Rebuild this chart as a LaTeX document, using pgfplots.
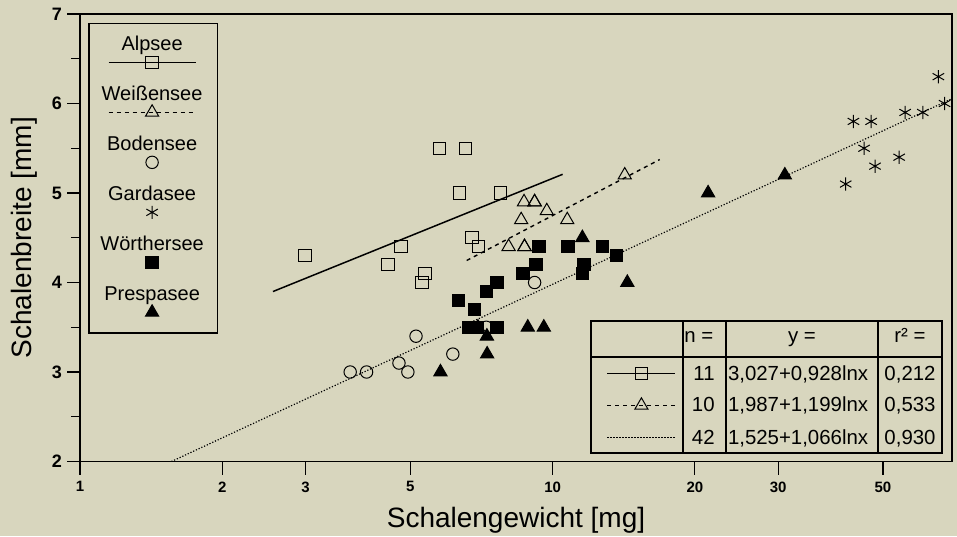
\documentclass[border=0pt]{standalone}
\usepackage{pgfplots}
\pgfplotsset{compat=1.18}
\usepackage{fontspec}
\setmainfont{Liberation Sans}
\definecolor{bgc}{RGB}{216,214,190}
\newcommand{\legfont}{\fontsize{10}{12}\selectfont}
\newcommand{\tabfont}{\fontsize{10.2}{12}\selectfont}
\begin{document}
\begin{tikzpicture}
\fill[bgc] (-40pt,-37.25pt) rectangle (438.5pt,230.75pt);
\begin{axis}[
  at={(0pt,0pt)}, anchor=south west, scale only axis,
  width=436pt, height=223.75pt,
  xmode=log, xmin=1, xmax=70, ymin=2, ymax=7,
  axis line style={line width=0.65pt},
  xtick={1,2,3,5,10,20,30,50},
  xticklabels={1,2,3,5,10,20,30,50},
  ytick={2,3,4,5,6,7},
  minor ytick={2.5,3.5,4.5,5.5,6.5},
  tick pos=left, tick align=outside,
  major tick length=6.5pt, minor tick length=4.5pt,
  tick style={black, line width=0.6pt},
  /pgf/number format/assume math mode=true,
  xticklabel style={font=\fontsize{7.5}{9}\selectfont\bfseries},
  yticklabel style={font=\fontsize{9}{10}\selectfont\bfseries, xshift=1pt},
  xlabel={Schalengewicht [mg]}, ylabel={Schalenbreite [mm]},
  label style={font=\fontsize{14}{16}\selectfont},
  xlabel style={at={(axis description cs:0.5,-0.1464)}, anchor=base},
  ylabel style={at={(axis description cs:-0.056,0.5)}, anchor=base},
  legend style={at={(0.00952,0.98056)}, anchor=north west, draw=black, line width=0.6pt,
    fill=bgc, inner sep=2.4pt, row sep=0pt, column sep=0pt,
    nodes={inner sep=0pt, text depth=0pt}, cells={anchor=center}},
]
% regression lines (endpoints)
\addplot[black, line width=0.75pt, forget plot] coordinates {(2.56,3.899) (10.5,5.209)};
\addplot[black, line width=0.7pt, dash pattern=on 2pt off 2pt, forget plot] coordinates {(6.58,4.246) (16.85,5.374)};
\addplot[black, line width=0.6pt, dash pattern=on 0.6pt off 0.9pt, forget plot] coordinates {(1.561,2.0) (70,6.054)};

% Alpsee
\addplot[black, only marks, mark=square, mark size=3.1pt, mark options={line width=0.5pt},
  legend image code/.code={
    \path[use as bounding box, draw=none, fill=none] (-7.45pt,-7.875pt) rectangle (51.1pt,17.125pt);
    \draw[line width=0.6pt] (0pt,0pt) -- (43.5pt,0pt);
    \draw plot coordinates {(21.75pt,0pt)};
    \node[font=\legfont, anchor=base, inner sep=0pt, draw=none, fill=none] at (21.75pt,5.8pt) {Alpsee};
  }] coordinates {
  (2.99,4.3) (4.48,4.2) (4.78,4.4) (5.37,4.1) (5.29,4.0) (5.76,5.5)
  (6.54,5.5) (6.36,5.0) (7.75,5.0) (6.75,4.5) (6.97,4.4)
};
\addlegendentry{}
% Weissensee
\addplot[black, only marks, mark=triangle, mark size=3.8pt, mark options={line width=0.5pt},
  legend image code/.code={
    \path[use as bounding box, draw=none, fill=none] (-7.45pt,-7.875pt) rectangle (51.1pt,17.125pt);
    \draw[line width=0.6pt, dash pattern=on 2pt off 2pt] (0pt,0pt) -- (43.5pt,0pt);
    \draw plot coordinates {(21.75pt,0pt)};
    \node[font=\legfont, anchor=base, inner sep=0pt, draw=none, fill=none] at (21.75pt,5.8pt) {Weißensee};
  }] coordinates {
  (8.70,4.9) (9.16,4.9) (9.72,4.8) (8.58,4.7) (10.74,4.7) (14.21,5.2)
  (8.07,4.4) (8.72,4.4) (8.72,4.4) (9.16,4.9)
};
\addlegendentry{}
% Bodensee
\addplot[black, only marks, mark=o, mark size=3.1pt, mark options={line width=0.5pt},
  legend image code/.code={
    \path[use as bounding box, draw=none, fill=none] (-7.45pt,-7.875pt) rectangle (51.1pt,17.125pt);
    \draw plot coordinates {(21.75pt,0pt)};
    \node[font=\legfont, anchor=base, inner sep=0pt, draw=none, fill=none] at (21.75pt,5.8pt) {Bodensee};
  }] coordinates {
  (5.14,3.4) (6.15,3.2) (4.73,3.1) (4.94,3.0) (3.73,3.0) (4.04,3.0)
  (9.16,4.0) (7.24,3.5)
};
\addlegendentry{}
% Gardasee
\addplot[black, only marks, mark=asterisk, mark size=3.3pt, mark options={line width=0.5pt},
  legend image code/.code={
    \path[use as bounding box, draw=none, fill=none] (-7.45pt,-7.875pt) rectangle (51.1pt,17.125pt);
    \draw plot coordinates {(21.75pt,0pt)};
    \node[font=\legfont, anchor=base, inner sep=0pt, draw=none, fill=none] at (21.75pt,5.8pt) {Gardasee};
  }] coordinates {
  (65.5,6.3) (67.5,6.0) (43.3,5.8) (47.2,5.8) (55.7,5.9) (60.7,5.9)
  (45.6,5.5) (54.1,5.4) (48.1,5.3) (41.7,5.1)
};
\addlegendentry{}
% Woerthersee
\addplot[black, only marks, mark=square*, mark size=3.1pt, mark options={line width=0.5pt},
  legend image code/.code={
    \path[use as bounding box, draw=none, fill=none] (-7.45pt,-7.875pt) rectangle (51.1pt,17.125pt);
    \draw plot coordinates {(21.75pt,0pt)};
    \node[font=\legfont, anchor=base, inner sep=0pt, draw=none, fill=none] at (21.75pt,5.8pt) {Wörthersee};
  }] coordinates {
  (9.35,4.4) (10.78,4.4) (12.75,4.4) (13.64,4.3) (11.65,4.2) (11.56,4.1)
  (9.23,4.2) (8.65,4.1) (7.63,4.0) (7.24,3.9) (6.33,3.8) (6.83,3.7)
  (6.65,3.5) (7.63,3.5) (6.94,3.5)
};
\addlegendentry{}
% Prespasee
\addplot[black, only marks, mark=triangle*, mark size=3.8pt, mark options={line width=0.5pt},
  legend image code/.code={
    \path[use as bounding box, draw=none, fill=none] (-7.45pt,-7.875pt) rectangle (51.1pt,17.125pt);
    \draw plot coordinates {(21.75pt,0pt)};
    \node[font=\legfont, anchor=base, inner sep=0pt, draw=none, fill=none] at (21.75pt,5.8pt) {Prespasee};
  }] coordinates {
  (11.56,4.5) (14.39,4.0) (8.86,3.5) (9.58,3.5) (6.95,3.5) (7.26,3.4)
  (7.27,3.2) (5.79,3.0) (21.33,5.0) (31.0,5.2)
};
\addlegendentry{}
\end{axis}

% second (hidden) axis: line samples of the regression table
\begin{axis}[
  at={(0pt,0pt)}, anchor=south west, scale only axis,
  width=436pt, height=223.75pt, hide axis,
  xmin=0, xmax=1, ymin=0, ymax=1,
  legend style={at={(0.58601,0.23352)}, anchor=north west, draw=none, fill=none,
    inner sep=0pt, row sep=0pt, column sep=0pt,
    nodes={inner sep=0pt, text depth=0pt}, cells={anchor=center}},
]
\addlegendimage{black, line width=0.6pt, mark=square, mark size=3.1pt, mark options={solid, line width=0.5pt},
  legend image code/.code={
    \path[use as bounding box, draw=none, fill=none] (0pt,-8pt) rectangle (46pt,8pt);
    \draw (8pt,0pt) -- (42pt,0pt);
    \draw plot coordinates {(25pt,0pt)};
  }}
\addlegendentry{}
\addlegendimage{black, line width=0.6pt, dash pattern=on 2pt off 2pt, mark=triangle, mark size=3.8pt, mark options={solid, line width=0.5pt},
  legend image code/.code={
    \path[use as bounding box, draw=none, fill=none] (0pt,-8pt) rectangle (46pt,8pt);
    \draw (8pt,0pt) -- (42pt,0pt);
    \draw plot coordinates {(25pt,0pt)};
  }}
\addlegendentry{}
\addlegendimage{black, line width=0.6pt, dash pattern=on 0.6pt off 0.9pt,
  legend image code/.code={
    \path[use as bounding box, draw=none, fill=none] (0pt,-8pt) rectangle (46pt,8pt);
    \draw (8pt,0pt) -- (42pt,0pt);
  }}
\addlegendentry{}
\end{axis}

% regression table frame and text
\draw[line width=0.6pt] (255.5pt,4.25pt) rectangle (431pt,70.25pt);
\draw[line width=0.6pt] (255.5pt,52.25pt) -- (431pt,52.25pt);
\draw[line width=0.6pt] (301.5pt,4.25pt) -- (301.5pt,70.25pt);
\draw[line width=0.6pt] (323pt,4.25pt) -- (323pt,70.25pt);
\draw[line width=0.6pt] (399pt,4.25pt) -- (399pt,70.25pt);
\begin{scope}[every node/.style={font=\tabfont, inner sep=0pt}]
\node[anchor=base west] at (302pt,59.4pt) {n =};
\node[anchor=base] at (361pt,59.4pt) {y =};
\node[anchor=base] at (415pt,59.4pt) {r² =};
\node[anchor=base east] at (317.5pt,40.4pt) {11};
\node[anchor=base east] at (317.5pt,24.9pt) {10};
\node[anchor=base east] at (317.5pt,8.3pt) {42};
\node[anchor=base west] at (323.8pt,40.4pt) {3,027+0,928lnx};
\node[anchor=base west] at (323.8pt,24.9pt) {1,987+1,199lnx};
\node[anchor=base west] at (323.8pt,8.3pt) {1,525+1,066lnx};
\node[anchor=base] at (415pt,40.4pt) {0,212};
\node[anchor=base] at (415pt,24.9pt) {0,533};
\node[anchor=base] at (415pt,8.3pt) {0,930};
\end{scope}
\pgfresetboundingbox
\path (-40pt,-37.25pt) rectangle (438.5pt,230.75pt);
\end{tikzpicture}
\end{document}
